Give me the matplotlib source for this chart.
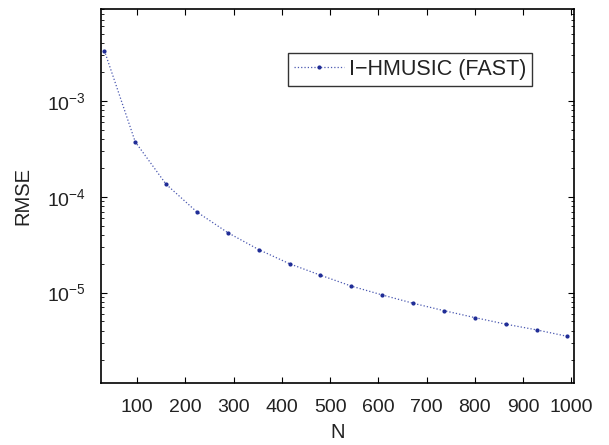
import numpy as np
import matplotlib
matplotlib.use("Agg")
import matplotlib.pyplot as plt
from matplotlib.ticker import LogLocator, NullFormatter

plt.rcParams['font.family'] = ['Liberation Sans', 'DejaVu Sans']
plt.rcParams['mathtext.fontset'] = 'custom'
plt.rcParams['mathtext.rm'] = 'Liberation Sans'
plt.rcParams['mathtext.it'] = 'Liberation Sans'
plt.rcParams['mathtext.bf'] = 'Liberation Sans'

# Sample sizes and RMSE
n_values = [32, 96, 160, 224, 288, 352, 416, 480, 544, 608, 672, 736, 800, 864, 928, 992]
rmse = [3.35e-3, 3.74e-4, 1.35e-4, 6.93e-5, 4.22e-5, 2.81e-5, 2.0e-5, 1.52e-5,
        1.17e-5, 9.46e-6, 7.75e-6, 6.49e-6, 5.49e-6, 4.69e-6, 4.09e-6, 3.5e-6]
x_ticks = [100, 200, 300, 400, 500, 600, 700, 800, 900, 1000]
series_label = "I\u2212HMUSIC (FAST)"

fig = plt.figure(figsize=(6.09, 4.45), dpi=100)
ax = fig.add_axes([0.1658, 0.14, 0.9420 - 0.1658, 0.979 - 0.14])

ax.semilogy(n_values, rmse, linestyle=':', linewidth=0.9, color='#4a58b0',
            marker='.', markersize=4, markerfacecolor='#1f2c96',
            markeredgecolor='#1f2c96', label=series_label)

ax.set_xlim(25, 1005)
ax.set_ylim(1.15e-6, 9e-3)
ax.set_xticks(x_ticks)
ax.yaxis.set_major_locator(LogLocator(base=10, numticks=10))
ax.yaxis.set_minor_locator(LogLocator(base=10, subs=np.arange(2, 10), numticks=20))
ax.yaxis.set_minor_formatter(NullFormatter())

ax.tick_params(which='both', direction='in', top=True, right=True, labelsize=14,
               labelcolor='#222222')
ax.tick_params(which='major', length=4, width=0.8)
ax.tick_params(which='minor', length=2, width=0.6)
ax.tick_params(axis='x', which='major', pad=12)
ax.tick_params(axis='y', which='major', pad=11)
for s in ax.spines.values():
    s.set_linewidth(1.2)

ax.set_xlabel("N", fontsize=14.5, labelpad=5, color='#222222')
ax.set_ylabel("RMSE", fontsize=14.5, labelpad=10, color='#222222')

leg = ax.legend(loc='upper right', bbox_to_anchor=(0.912, 0.883), fontsize=15.5,
                frameon=True, fancybox=False, edgecolor='black',
                handlelength=2.3, handletextpad=0.25, borderpad=0.27,
                borderaxespad=0)
leg.get_frame().set_linewidth(1.0)
for t in leg.get_texts():
    t.set_color('#222222')

fig.savefig("out.png", dpi=100)
